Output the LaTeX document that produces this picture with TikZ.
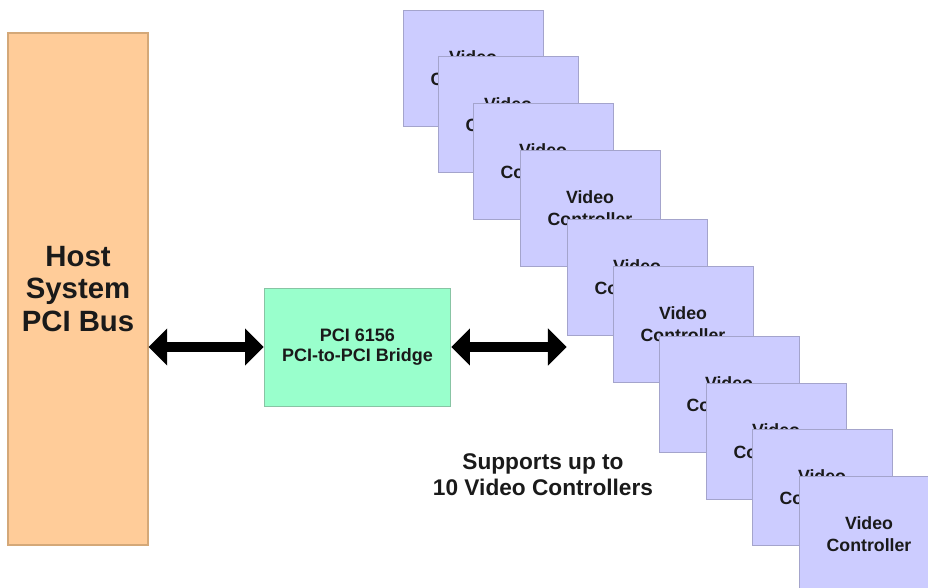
\documentclass[tikz,border=0pt]{standalone}
\usepackage{fontspec}
\setmainfont{Liberation Sans}
\usetikzlibrary{arrows.meta}
\definecolor{hostfill}{HTML}{FFCC99}
\definecolor{hostline}{HTML}{D4A878}
\definecolor{bridgefill}{HTML}{99FFCC}
\definecolor{bridgeline}{HTML}{88C4A4}
\definecolor{videofill}{HTML}{CCCCFF}
\definecolor{videoline}{HTML}{A4A4CC}
\definecolor{inktext}{HTML}{1A1A1A}

\begin{document}
\begin{tikzpicture}[x=0.75pt, y=-0.75pt,
	hostbox/.style={draw=hostline, fill=hostfill, line width=0.8pt, minimum width=105pt, minimum height=384pt, inner sep=0pt, align=center, text=inktext, font=\bfseries\fontsize{22}{24.5}\selectfont},
	bridgebox/.style={draw=bridgeline, fill=bridgefill, line width=0.6pt, minimum width=140pt, minimum height=88.5pt, inner sep=0pt, align=center, text=inktext, font=\bfseries\fontsize{13.5}{15}\selectfont},
	videobox/.style={draw=videoline, fill=videofill, line width=0.6pt, minimum width=105pt, minimum height=87pt, inner sep=0pt, align=center, text=inktext, font=\bfseries\fontsize{13.3}{16}\selectfont},
	busarrow/.style={line width=8pt, {Triangle[length=14pt, width=27pt]}-{Triangle[length=14pt, width=27pt]}},
	notetext/.style={align=center, text=inktext, font=\bfseries\fontsize{17}{19.5}\selectfont}]
				\useasboundingbox (0, 0) rectangle (928, 588);
				\node [hostbox] (host) at (78, 289) {Host\\System\\PCI Bus};
				\node [bridgebox] (bridge) at (357.5, 347) {PCI 6156\\PCI-to-PCI Bridge};
				\node [videobox] (v1) at (473, 68) {Video\\Controller};
				\node [videobox] (v2) at (508, 114.5) {Video\\Controller};
				\node [videobox] (v3) at (543, 161) {Video\\Controller};
				\node [videobox] (v4) at (590, 208) {Video\\Controller};
				\node [videobox] (v5) at (637, 277) {Video\\Controller};
				\node [videobox] (v6) at (683, 324) {Video\\Controller};
				\node [videobox] (v7) at (729, 394) {Video\\Controller};
				\node [videobox] (v8) at (776, 441) {Video\\Controller};
				\node [videobox] (v9) at (822, 487) {Video\\Controller};
				\node [videobox] (v10) at (869, 534) {Video\\Controller};
				\draw [busarrow] (host.east |- bridge.west) -- (bridge.west);
				\draw [busarrow] (bridge.east) -- (bridge.east -| v5.west);
				\node [notetext] (note) at (543, 475) {Supports up to\\10 Video Controllers};
			\end{tikzpicture}
\end{document}
